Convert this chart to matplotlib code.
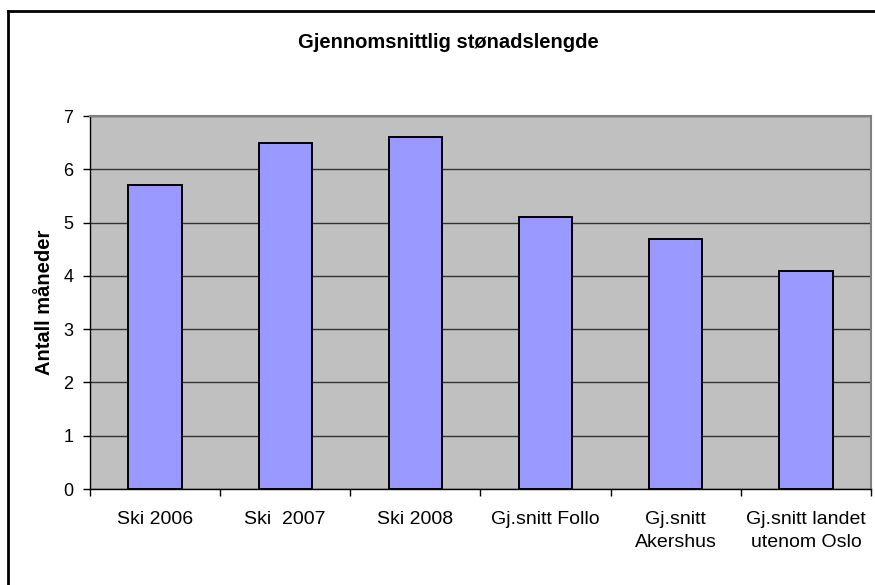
import numpy as np
import matplotlib
matplotlib.use('Agg')
import matplotlib.pyplot as plt
from matplotlib.lines import Line2D

plt.rcParams['font.family'] = ['Liberation Sans', 'DejaVu Sans']

categories = ['Ski 2006', 'Ski  2007', 'Ski 2008', 'Gj.snitt Follo',
              'Gj.snitt\nAkershus', 'Gj.snitt landet\nutenom Oslo']
values = [5.7, 6.5, 6.6, 5.1, 4.7, 4.1]
yticks = [0, 1, 2, 3, 4, 5, 6, 7]

W, H = 875, 585
fig = plt.figure(figsize=(W / 100, H / 100), dpi=100)
ax = fig.add_axes([90 / W, 1 - 489 / H, (871 - 90) / W, (489 - 116) / H])

x = np.arange(len(categories))
ax.set_facecolor('#C0C0C0')
ax.set_axisbelow(True)
ax.yaxis.grid(True, color='#333333', linewidth=1.0)
ax.bar(x, values, width=0.41, color='#9999FF', edgecolor='black', linewidth=1.4, zorder=3)

ax.set_xlim(-0.5, len(categories) - 0.5)
ax.set_ylim(0, 7)
ax.set_yticks(yticks)
ax.set_yticklabels([str(t) for t in yticks], fontsize=13)
ax.tick_params(axis='y', length=5, width=1, pad=7, color='black')

# labels centred under bars, tick marks between categories
ax.set_xticks(x)
ax.set_xticklabels(categories, fontsize=14, linespacing=1.45)
ax.tick_params(axis='x', which='major', length=0, pad=16)
ax.set_xticks(np.arange(len(categories) + 1) - 0.5, minor=True)
ax.tick_params(axis='x', which='minor', length=5, width=1, color='black')

for side in ['top', 'right']:
    ax.spines[side].set_color('#808080')
    ax.spines[side].set_linewidth(1.5)
for side in ['left', 'bottom']:
    ax.spines[side].set_color('black')
    ax.spines[side].set_linewidth(1.0)

fig.text(45 / W, 1 - ((116 + 489) / 2) / H, 'Antall måneder', rotation=90,
         fontsize=14.5, fontweight='bold', ha='center', va='center')

fig.text(448 / W, 1 - 43 / H, 'Gjennomsnittlig stønadslengde',
         fontsize=14.5, fontweight='bold', ha='center', va='center')

# chart frame (cut off on right and bottom)
fx, fy = 7.5 / W, 1 - 11 / H
fig.add_artist(Line2D([fx, fx], [0, fy], color='black', linewidth=2, transform=fig.transFigure))
fig.add_artist(Line2D([fx, 1.0], [fy, fy], color='black', linewidth=2, transform=fig.transFigure))

fig.savefig('out.png', dpi=100)
